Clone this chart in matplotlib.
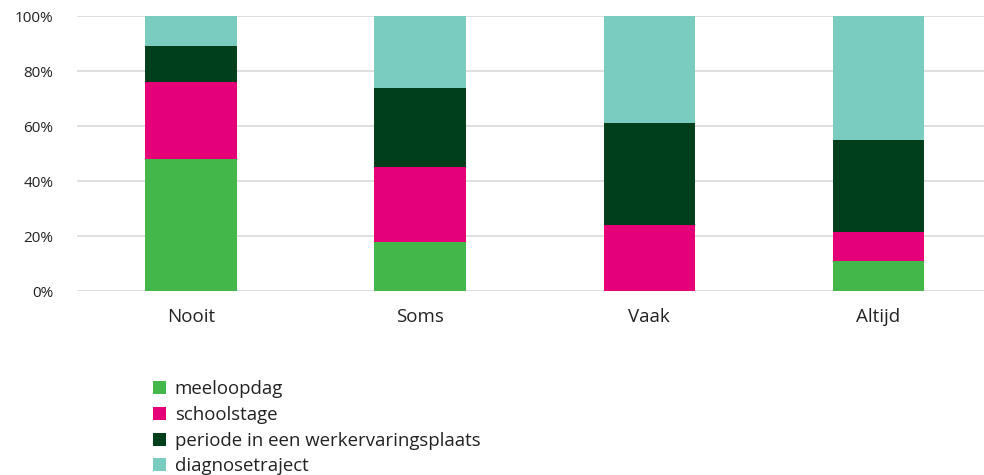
import numpy as np
import matplotlib.pyplot as plt

plt.rcParams['font.family'] = ['Open Sans', 'DejaVu Sans']

categories = ['Nooit', 'Soms', 'Vaak', 'Altijd']
series_names = ['meeloopdag', 'schoolstage', 'periode in een werkervaringsplaats', 'diagnosetraject']
meeloopdag = [48, 18, 0, 11]
schoolstage = [28, 27, 24, 10.5]
periode = [13, 29, 37, 33.5]
diagnosetraject = [11, 26, 39, 45]
colors = ['#44b74a', '#e5007a', '#003f1b', '#7bccc0']

fig = plt.figure(figsize=(9.84, 4.75), dpi=100)
ax = fig.add_axes([0.078, 0.387, 0.931, 0.579])

x = np.arange(len(categories))
bottom = np.zeros(len(categories))
for name, vals, c in zip(series_names, [meeloopdag, schoolstage, periode, diagnosetraject], colors):
    vals = np.array(vals, dtype=float)
    ax.bar(x, vals, width=0.4, bottom=bottom, color=c, label=name, zorder=3)
    bottom += vals

ax.set_xlim(-0.5, 3.5)
ax.set_ylim(0, 100)
ax.set_yticks(np.arange(0, 101, 20))
ax.set_yticklabels([f'{v}%' for v in range(0, 101, 20)])
ax.set_xticks(x)
ax.set_xticklabels(categories, fontsize=13.5, color='#222222')
ax.tick_params(axis='y', labelsize=11, colors='#222222', length=0, pad=17)
ax.tick_params(axis='x', length=0, pad=12)
ax.grid(axis='y', color='#d9d9d9', linewidth=1.2, zorder=0)
for s in ax.spines.values():
    s.set_visible(False)

fig.legend(loc='upper left', bbox_to_anchor=(0.155, 0.2), frameon=False,
           fontsize=13.4, handlelength=0.7, handleheight=0.7, handletextpad=0.5,
           labelspacing=0.42, borderaxespad=0, borderpad=0, labelcolor='#222222')

fig.savefig('out.png', dpi=100)
